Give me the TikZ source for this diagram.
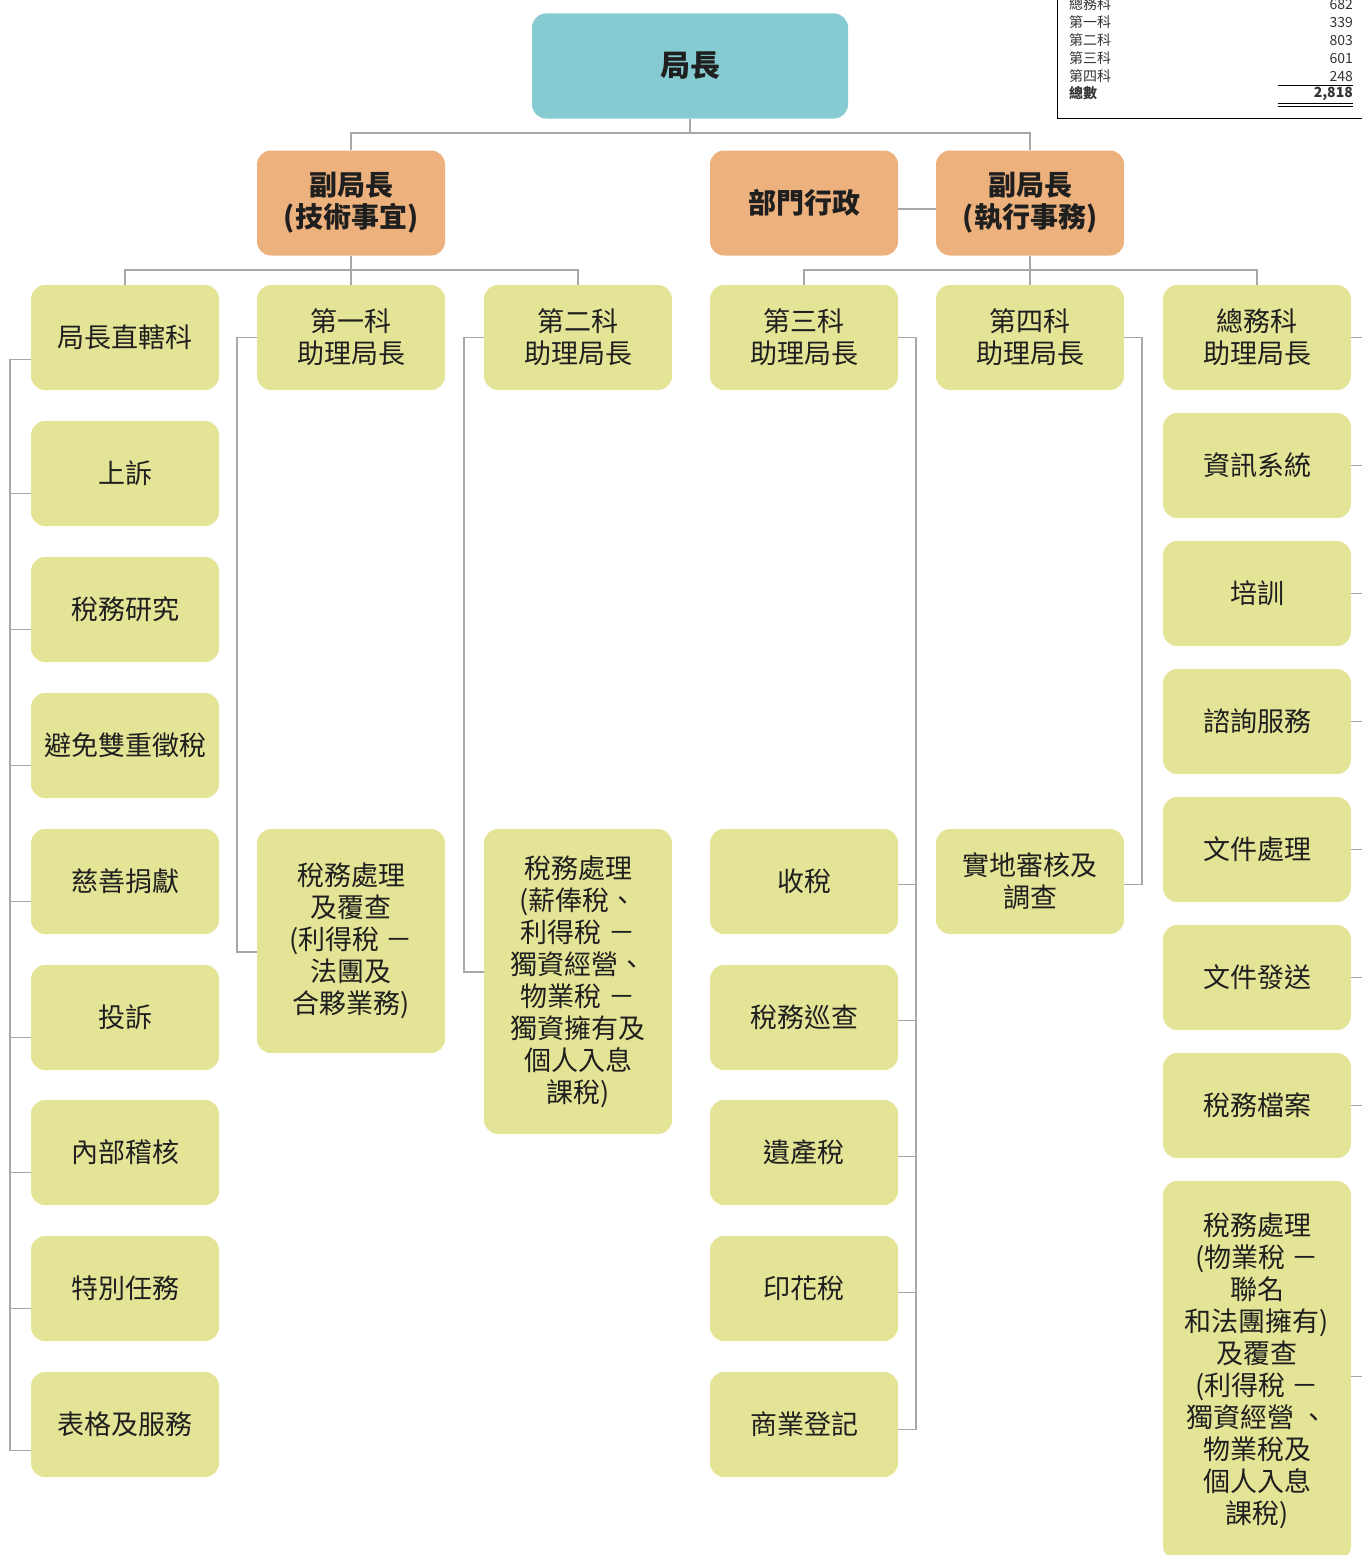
\documentclass[tikz,border=0pt]{standalone}
\usepackage{fontspec}
\setmainfont{Noto Sans CJK TC}
\usepackage{tikz}

\definecolor{chiefteal}{RGB}{134,203,209}
\definecolor{headorange}{RGB}{236,177,124}
\definecolor{unitgreen}{RGB}{227,228,150}
\definecolor{linegray}{RGB}{168,168,168}

\begin{document}
\begin{tikzpicture}[x = 1pt, y = -1pt,
            box/.style = {rounded corners = 14pt, minimum width = 188pt, minimum height = 105pt,
                          inner sep = 2pt, align = center, text = black!88,
                          font = \fontsize{27}{32}\selectfont},
            unit/.style = {box, fill = unitgreen},
            head/.style = {box, fill = headorange, font = \fontsize{28}{32}\selectfont\bfseries},
            link/.style = {draw = linegray, line width = 1.8pt},
            cell/.style = {inner sep = 0pt, text = black!80, font = \fontsize{14}{16}\selectfont}]

            \useasboundingbox (0, 0) rectangle (1362, 1555);
            \clip (0, 0) rectangle (1362, 1555);

            % top
            \node[box, fill = chiefteal, minimum width = 316pt, font = \fontsize{30}{32}\selectfont\bfseries] (H) at (690, 66){局長};
            \node[head] (V1) at (351, 203){副局長\\(技術事宜)};
            \node[head] (V2) at (804, 203){部門行政};
            \node[head] (V3) at (1030, 203){副局長\\(執行事務)};

            % sections
            \node[unit] (S1) at (125, 337.5){局長直轄科};
            \node[unit] (S2) at (351, 337.5){第一科\\助理局長};
            \node[unit] (S3) at (578, 337.5){第二科\\助理局長};
            \node[unit] (S4) at (804, 337.5){第三科\\助理局長};
            \node[unit] (S5) at (1030, 337.5){第四科\\助理局長};
            \node[unit] (S6) at (1257, 337.5){總務科\\助理局長};

            \node[unit] (a1) at (125, 473.5){上訴};
            \node[unit] (a2) at (125, 609.5){稅務研究};
            \node[unit] (a3) at (125, 745.5){避免雙重徵稅};
            \node[unit] (a4) at (125, 881.5){慈善捐獻};
            \node[unit] (a5) at (125, 1017.5){投訴};
            \node[unit] (a6) at (125, 1152.5){內部稽核};
            \node[unit] (a7) at (125, 1288.5){特別任務};
            \node[unit] (a8) at (125, 1424.5){表格及服務};

            \node[unit, minimum height = 224pt] (b1) at (351, 941){稅務處理\\及覆查\\(利得稅 －\\法團及\\合夥業務)};

            \node[unit, minimum height = 305pt] (c1) at (578, 981.5){稅務處理\\(薪俸稅、\\利得稅 －\\獨資經營、\\物業稅 －\\獨資擁有及\\個人入息\\課稅)};

            \node[unit] (d1) at (804, 881.5){收稅};
            \node[unit] (d2) at (804, 1017.5){稅務巡查};
            \node[unit] (d3) at (804, 1152.5){遺產稅};
            \node[unit] (d4) at (804, 1288.5){印花稅};
            \node[unit] (d5) at (804, 1424.5){商業登記};

            \node[unit] (e1) at (1030, 881.5){實地審核及\\調查};

            \node[unit] (f1) at (1257, 465.5){資訊系統};
            \node[unit] (f2) at (1257, 593.5){培訓};
            \node[unit] (f3) at (1257, 721.5){諮詢服務};
            \node[unit] (f4) at (1257, 849.5){文件處理};
            \node[unit] (f5) at (1257, 977.5){文件發送};
            \node[unit] (f6) at (1257, 1105.5){稅務檔案};
            \node[unit, minimum height = 379pt] (f7) at (1257, 1370.5){稅務處理\\(物業稅 －\\聯名\\和法團擁有)\\及覆查\\(利得稅 －\\獨資經營 、\\物業稅及\\個人入息\\課稅)};

            % links
            \draw[link] (H.south) -- ++(0, 14) -| (V1.north);
            \draw[link] (H.south) -- ++(0, 14) -| (V3.north);
            \draw[link] ([yshift = -6pt]V2.east) -- ([yshift = -6pt]V3.west);

            \draw[link] (V1.south) -- ++(0, 14) -| (S1.north);
            \draw[link] (V1.south) -- (S2.north);
            \draw[link] (V1.south) -- ++(0, 14) -| (S3.north);
            \draw[link] (V3.south) -- ++(0, 14) -| (S4.north);
            \draw[link] (V3.south) -- (S5.north);
            \draw[link] (V3.south) -- ++(0, 14) -| (S6.north);

            \draw[link] ([yshift = -22pt]S1.west) -- ++(-21, 0) |- ([yshift = -20pt]a1.west);
            \draw[link] ([yshift = -22pt]S1.west) -- ++(-21, 0) |- ([yshift = -20pt]a2.west);
            \draw[link] ([yshift = -22pt]S1.west) -- ++(-21, 0) |- ([yshift = -20pt]a3.west);
            \draw[link] ([yshift = -22pt]S1.west) -- ++(-21, 0) |- ([yshift = -20pt]a4.west);
            \draw[link] ([yshift = -22pt]S1.west) -- ++(-21, 0) |- ([yshift = -20pt]a5.west);
            \draw[link] ([yshift = -22pt]S1.west) -- ++(-21, 0) |- ([yshift = -20pt]a6.west);
            \draw[link] ([yshift = -22pt]S1.west) -- ++(-21, 0) |- ([yshift = -20pt]a7.west);
            \draw[link] ([yshift = -22pt]S1.west) -- ++(-21, 0) |- ([yshift = -26pt]a8.west);

            \draw[link] (S2.west) -- ++(-20, 0) |- ([yshift = -11pt]b1.west);
            \draw[link] (S3.west) -- ++(-20, 0) |- ([yshift = 9.5pt]c1.west);

            \draw[link] (S4.east) -- ++(18, 0) |- ([yshift = -3pt]d1.east);
            \draw[link] (S4.east) -- ++(18, 0) |- ([yshift = -3pt]d2.east);
            \draw[link] (S4.east) -- ++(18, 0) |- ([yshift = -4pt]d3.east);
            \draw[link] (S4.east) -- ++(18, 0) |- ([yshift = -4pt]d4.east);
            \draw[link] (S4.east) -- ++(18, 0) |- ([yshift = -5pt]d5.east);

            \draw[link] (S5.east) -- ++(18, 0) |- ([yshift = -3pt]e1.east);

            \draw[link] (S6.east) -- ++(24, 0) |- (f1.east);
            \draw[link] (S6.east) -- ++(24, 0) |- (f2.east);
            \draw[link] (S6.east) -- ++(24, 0) |- (f3.east);
            \draw[link] (S6.east) -- ++(24, 0) |- (f4.east);
            \draw[link] (S6.east) -- ++(24, 0) |- (f5.east);
            \draw[link] (S6.east) -- ++(24, 0) |- (f6.east);
            \draw[link] (S6.east) -- ++(24, 0) |- ([yshift = -6pt]f7.east);

            % staff table
            \draw[line width = 1pt] (1057, -5) -- (1057, 118) -- (1370, 118);
            \node[cell, anchor = west] (t1) at (1069, 4.5){總務科};
            \node[cell, anchor = west] (t2) at (1069, 22.5){第一科};
            \node[cell, anchor = west] (t3) at (1069, 40.5){第二科};
            \node[cell, anchor = west] (t4) at (1069, 58.5){第三科};
            \node[cell, anchor = west] (t5) at (1069, 76.5){第四科};
            \node[cell, anchor = west, font = \fontsize{14}{16}\selectfont\bfseries] (t6) at (1069, 93.5){總數};
            \node[cell, anchor = east] (n1) at (1353, 4.5){682};
            \node[cell, anchor = east] (n2) at (1353, 22.5){339};
            \node[cell, anchor = east] (n3) at (1353, 40.5){803};
            \node[cell, anchor = east] (n4) at (1353, 58.5){601};
            \node[cell, anchor = east] (n5) at (1353, 76.5){248};
            \node[cell, anchor = east, font = \fontsize{14}{16}\selectfont\bfseries] (n6) at (1353, 93.5){2,818};
            \draw[line width = 0.9pt] (1278, 85) -- (1353, 85);
            \draw[line width = 0.9pt] (1278, 103) -- (1353, 103);
            \draw[line width = 0.9pt] (1278, 106) -- (1353, 106);
        \end{tikzpicture}
\end{document}
